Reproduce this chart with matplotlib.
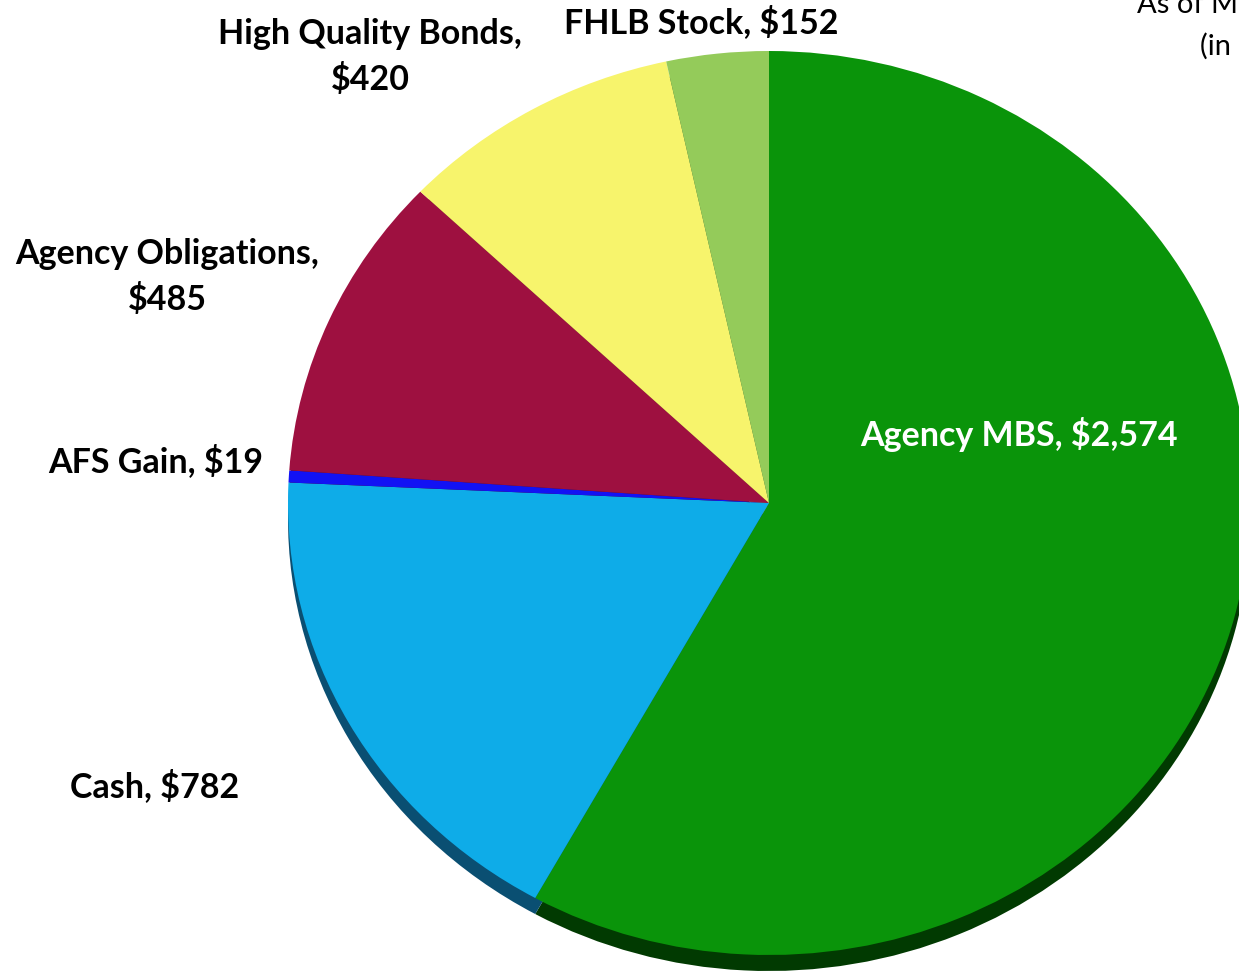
import matplotlib.pyplot as plt

# Portfolio composition ($ millions)
labels = ["Agency MBS", "Cash", "AFS Gain", "Agency Obligations",
          "High Quality Bonds", "FHLB Stock"]
values = [2574, 782, 19, 485, 420, 152]
label_text = ["Agency MBS, $2,574", "Cash, $782", "AFS Gain, $19",
              "Agency Obligations,\n$485", "High Quality Bonds,\n$420",
              "FHLB Stock, $152"]
top_colors = ["#0A940A", "#0EACE8", "#1212F4", "#9E1040", "#F7F46C", "#94CB5A"]
side_colors = ["#013A01", "#0A4F72", "#08087A", "#4E0820", "#7A7836", "#46662C"]

W, H = 1239, 975
fig = plt.figure(figsize=(W / 100, H / 100), dpi=100)
ax = fig.add_axes([0, 0, 1, 1])

# tilted pie: ellipse drawn by stretching the y data units
cx, cy, rx, ry = 769, 503, 481, 452
s = rx / ry


def fy(y):
    return (H - y) * s


# darker copy underneath gives the 3D edge
ax.pie(values, center=(cx, fy(cy + 16)), radius=rx, colors=side_colors,
       startangle=90, counterclock=False, wedgeprops=dict(linewidth=0))
ax.pie(values, center=(cx, fy(cy)), radius=rx, colors=top_colors,
       startangle=90, counterclock=False, wedgeprops=dict(linewidth=0))

ax.set_aspect("auto")
ax.set_xlim(0, W)
ax.set_ylim(0, H * s)
ax.axis("off")

font = "Lato"
lbl = dict(fontsize=24.5, fontweight="bold", family=font, ha="center",
           va="center", linespacing=1.5)
pos = [(1019, 435), (155, 786), (156, 461), (167, 277), (370, 57), (701, 22)]
for i, (txt, (x, y)) in enumerate(zip(label_text, pos)):
    col = "white" if i == 0 else "black"
    ax.text(x, fy(y), txt, color=col, **lbl)

ax.text(1277, fy(12), "As of March 31, 2011", fontsize=21, family=font,
        ha="center", va="baseline")
ax.text(1272, fy(55), "(in millions)", fontsize=21, family=font,
        ha="center", va="baseline")

fig.savefig("out.png", dpi=100)
